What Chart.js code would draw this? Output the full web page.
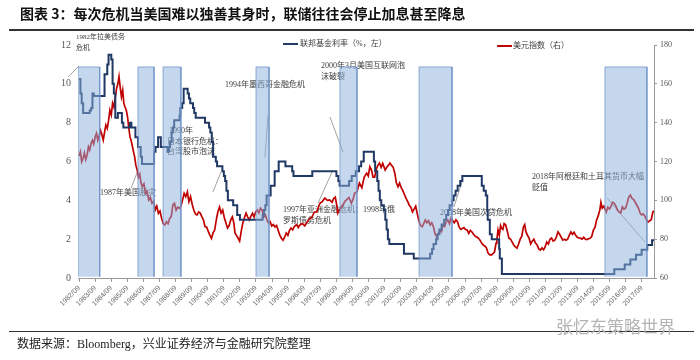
<!DOCTYPE html>
<html><head><meta charset="utf-8">
<script src="https://cdn.jsdelivr.net/npm/chart.js@4.4.0/dist/chart.umd.min.js"></script>
<style>
html,body{margin:0;padding:0;background:#fff;}
#wrap{position:relative;width:700px;height:360px;overflow:hidden;background:#fff;}
#c{position:absolute;left:0;top:0;}
.title{position:absolute;left:20px;top:4px;font:bold 14px "Noto Sans CJK SC";color:#111;white-space:nowrap;line-height:18px;}
.rule{position:absolute;left:9px;width:685px;background:#333;}
.foot{position:absolute;left:17px;top:336px;font:12px "Liberation Serif","Noto Sans CJK SC";color:#222;white-space:nowrap;line-height:16px;}
.wm{position:absolute;left:556px;top:316px;font:17px "Noto Sans CJK SC";color:#b4b4b4;white-space:nowrap;line-height:20px;}
</style></head>
<body>
<div id="wrap">
<canvas id="c" width="700" height="360"></canvas>
<div class="title">图表 3：每次危机当美国难以独善其身时，联储往往会停止加息甚至降息</div>
<div class="rule" style="top:29px;height:1.5px"></div>
<div class="rule" style="top:331px;height:1px"></div>
<div class="wm">张忆东策略世界</div>
<div class="foot">数据来源：Bloomberg，兴业证券经济与金融研究院整理</div>
</div>
<script>
// ---- tick labels ----
const xTickLabels = ['1982/09','1983/09','1984/09','1985/09','1986/09','1987/09','1988/09','1989/09','1990/09','1991/09','1992/09','1993/09','1994/09','1995/09','1996/09','1997/09','1998/09','1999/09','2000/09','2001/09','2002/09','2003/09','2004/09','2005/09','2006/09','2007/09','2008/09','2009/09','2010/09','2011/09','2012/09','2013/09','2014/09','2015/09','2016/09','2017/09'];
const leftTicks = [0,2,4,6,8,10,12];
const rightTicks = [60,80,100,120,140,160,180];

// ---- Fed funds rate (%, left), step changes: date (decimal year) and level ----
const rateDates = [1982.67,1982.75,1982.83,1982.92,1983.33,1983.42,1983.50,1983.58,1984.25,1984.42,1984.50,1984.67,1984.75,1984.83,1984.92,1985.08,1985.33,1985.42,1985.83,1985.92,1986.17,1986.33,1986.50,1986.58,1987.33,1987.42,1987.58,1987.75,1988.17,1988.25,1988.33,1988.42,1988.50,1988.58,1988.92,1988.96,1989.08,1989.17,1989.42,1989.50,1989.58,1989.75,1989.83,1989.92,1990.50,1990.75,1990.83,1990.92,1991.00,1991.17,1991.25,1991.58,1991.67,1991.75,1991.83,1991.92,1992.25,1992.50,1992.67,1994.08,1994.17,1994.25,1994.33,1994.58,1994.83,1995.08,1995.50,1995.92,1996.00,1997.17,1998.67,1998.79,1998.87,1999.46,1999.62,1999.87,2000.08,2000.21,2000.37,2001.00,2001.08,2001.21,2001.29,2001.37,2001.46,2001.62,2001.71,2001.79,2001.87,2001.96,2002.87,2003.48,2004.50,2004.62,2004.71,2004.87,2004.96,2005.08,2005.21,2005.37,2005.50,2005.62,2005.71,2005.87,2005.96,2006.08,2006.21,2006.37,2006.50,2007.71,2007.83,2007.96,2008.05,2008.08,2008.21,2008.33,2008.79,2008.83,2008.96,2015.95,2016.60,2016.95,2017.30,2017.65,2018.00,2018.30,2018.42];
const rateValues = [10.25,9.5,9.0,8.5,8.625,8.75,9.5,9.375,10.5,11.0,11.5,11.25,10.0,9.5,8.25,8.5,8.0,7.75,8.0,7.75,7.25,6.75,6.25,5.875,6.5,6.75,7.25,6.75,6.5,6.75,7.0,7.5,7.75,8.125,8.375,8.75,9.0,9.75,9.5,9.25,9.0,8.75,8.5,8.25,8.0,7.75,7.5,7.0,6.25,6.0,5.75,5.5,5.25,5.0,4.5,4.0,3.75,3.25,3.0,3.25,3.5,3.75,4.25,4.75,5.5,6.0,5.75,5.5,5.25,5.5,5.25,5.0,4.75,5.0,5.25,5.5,5.75,6.0,6.5,6.0,5.5,5.0,4.5,4.0,3.75,3.5,3.0,2.5,2.0,1.75,1.25,1.0,1.25,1.5,1.75,2.0,2.25,2.5,2.75,3.0,3.25,3.5,3.75,4.0,4.25,4.5,4.75,5.0,5.25,4.75,4.5,4.25,3.5,3.0,2.25,2.0,1.5,1.0,0.2,0.45,0.7,0.95,1.2,1.45,1.7,1.95,1.95];

// ---- US dollar index (right) ----
const usdDates = [1982.67,1982.75,1982.83,1982.92,1983.00,1983.08,1983.17,1983.25,1983.33,1983.42,1983.50,1983.58,1983.67,1983.75,1983.83,1983.92,1984.00,1984.08,1984.17,1984.25,1984.33,1984.42,1984.50,1984.58,1984.67,1984.75,1984.83,1984.92,1985.00,1985.08,1985.15,1985.22,1985.30,1985.38,1985.45,1985.52,1985.60,1985.68,1985.75,1985.83,1985.90,1985.98,1986.05,1986.12,1986.20,1986.28,1986.36,1986.44,1986.52,1986.60,1986.70,1986.80,1986.90,1987.00,1987.10,1987.20,1987.30,1987.40,1987.50,1987.60,1987.70,1987.80,1987.90,1988.00,1988.10,1988.20,1988.30,1988.40,1988.50,1988.60,1988.70,1988.80,1988.90,1989.00,1989.10,1989.20,1989.30,1989.40,1989.50,1989.60,1989.70,1989.80,1989.90,1990.00,1990.10,1990.20,1990.30,1990.40,1990.50,1990.60,1990.70,1990.80,1990.90,1991.00,1991.10,1991.20,1991.30,1991.40,1991.50,1991.60,1991.70,1991.80,1991.90,1992.00,1992.10,1992.20,1992.30,1992.36,1992.45,1992.55,1992.65,1992.75,1992.85,1992.95,1993.05,1993.15,1993.25,1993.35,1993.45,1993.55,1993.65,1993.75,1993.85,1993.95,1994.05,1994.15,1994.25,1994.35,1994.45,1994.55,1994.65,1994.75,1994.85,1994.95,1995.05,1995.15,1995.25,1995.35,1995.45,1995.55,1995.65,1995.75,1995.85,1995.95,1996.05,1996.20,1996.30,1996.40,1996.55,1996.70,1996.85,1997.00,1997.15,1997.30,1997.45,1997.55,1997.65,1997.80,1997.95,1998.10,1998.25,1998.40,1998.50,1998.60,1998.70,1998.75,1998.85,1999.00,1999.10,1999.20,1999.30,1999.45,1999.60,1999.70,1999.80,1999.95,2000.10,2000.25,2000.40,2000.55,2000.65,2000.75,2000.85,2000.95,2001.05,2001.15,2001.25,2001.35,2001.45,2001.55,2001.70,2001.80,2001.90,2002.00,2002.10,2002.20,2002.30,2002.40,2002.50,2002.60,2002.70,2002.80,2002.90,2003.00,2003.10,2003.20,2003.30,2003.40,2003.50,2003.60,2003.70,2003.80,2003.90,2004.00,2004.10,2004.20,2004.30,2004.40,2004.50,2004.60,2004.70,2004.80,2004.90,2005.00,2005.10,2005.20,2005.30,2005.40,2005.50,2005.60,2005.70,2005.80,2005.90,2006.00,2006.10,2006.20,2006.30,2006.40,2006.50,2006.60,2006.70,2006.80,2006.90,2007.00,2007.10,2007.20,2007.30,2007.40,2007.50,2007.60,2007.70,2007.80,2007.90,2008.00,2008.10,2008.20,2008.30,2008.40,2008.50,2008.60,2008.65,2008.72,2008.80,2008.88,2008.95,2009.02,2009.10,2009.20,2009.30,2009.40,2009.50,2009.60,2009.70,2009.80,2009.90,2010.00,2010.10,2010.20,2010.30,2010.38,2010.45,2010.55,2010.65,2010.75,2010.85,2010.95,2011.05,2011.15,2011.25,2011.35,2011.45,2011.55,2011.65,2011.75,2011.85,2011.95,2012.05,2012.15,2012.25,2012.35,2012.45,2012.55,2012.65,2012.75,2012.85,2012.95,2013.05,2013.15,2013.25,2013.35,2013.45,2013.55,2013.65,2013.75,2013.85,2013.95,2014.05,2014.15,2014.25,2014.35,2014.45,2014.55,2014.65,2014.75,2014.85,2014.95,2015.05,2015.12,2015.20,2015.30,2015.40,2015.45,2015.55,2015.65,2015.75,2015.85,2015.95,2016.05,2016.15,2016.25,2016.35,2016.45,2016.55,2016.65,2016.75,2016.85,2016.95,2017.05,2017.15,2017.25,2017.35,2017.45,2017.55,2017.65,2017.75,2017.85,2017.95,2018.05,2018.15,2018.25,2018.35,2018.42];
const usdValues = [122.8,125.0,119.9,121.8,124.4,121.0,123.5,127.6,126.0,129.4,131.0,129.0,132.8,134.5,131.0,133.5,136.0,134.0,131.0,135.0,138.8,137.0,141.0,146.5,144.0,150.0,148.0,153.0,157.7,160.0,163.7,158.5,153.4,156.8,150.0,148.2,146.5,143.0,137.9,132.8,131.0,128.0,125.0,122.5,118.0,115.6,112.0,113.5,108.9,107.0,108.5,103.6,104.5,100.2,101.5,98.5,99.5,95.0,97.0,93.3,94.5,90.7,88.0,87.3,89.0,88.0,90.7,91.6,97.6,98.5,95.0,96.5,95.9,97.0,100.0,103.6,101.9,104.4,99.3,101.9,98.0,95.0,93.0,92.4,94.0,93.4,91.6,90.0,86.4,86.3,84.0,82.1,80.4,83.2,84.7,89.9,94.1,96.6,93.4,95.0,91.0,88.3,85.7,87.0,90.0,91.5,88.0,83.2,82.0,80.6,79.0,84.0,88.3,91.0,93.4,91.5,89.9,91.8,93.4,91.4,94.0,95.0,93.5,96.0,95.0,91.4,92.5,90.0,88.3,89.0,86.8,87.5,86.3,87.0,84.5,82.1,80.5,79.5,81.0,83.2,82.0,84.5,85.7,84.8,86.5,87.5,86.0,87.3,88.0,86.8,88.8,90.5,91.4,94.0,94.0,96.5,98.5,99.5,101.2,100.0,100.2,99.0,101.0,101.7,97.0,93.4,95.0,96.6,98.0,99.5,100.2,101.5,98.5,100.5,103.6,104.5,108.9,106.5,112.0,114.0,112.5,117.3,115.6,112.0,112.0,116.0,118.0,119.2,117.0,119.0,115.6,117.0,118.0,119.2,118.0,117.0,114.0,109.0,107.0,108.9,106.5,105.0,103.0,101.0,99.5,97.5,96.5,94.0,95.5,97.0,93.0,89.5,87.0,86.4,88.0,89.9,88.5,89.5,87.3,88.5,86.5,83.0,81.3,82.5,84.7,83.8,87.3,86.5,89.0,89.9,88.0,90.9,89.5,88.5,90.0,89.0,86.3,85.0,85.5,86.0,85.0,84.7,83.0,84.5,83.7,82.5,81.5,81.1,80.5,79.5,78.0,77.0,76.5,75.5,72.9,72.0,71.8,72.5,73.4,78.0,80.0,84.7,82.0,87.0,85.5,85.0,88.0,87.3,84.0,80.5,80.0,78.5,77.0,76.0,75.4,77.5,80.0,81.5,86.3,87.5,84.0,82.0,80.6,77.5,79.0,80.0,78.0,77.0,75.0,74.4,75.5,74.5,76.0,78.5,77.5,80.0,80.6,79.0,79.5,81.1,83.7,82.5,81.0,79.5,80.0,79.5,80.0,82.0,83.7,82.5,83.5,82.0,81.0,80.6,80.5,80.0,81.0,80.0,79.8,80.2,80.5,81.5,84.7,86.0,89.9,92.0,95.0,99.0,96.0,97.0,95.0,94.0,96.5,95.5,97.0,99.0,98.5,97.0,95.0,94.0,93.5,96.6,95.5,96.0,98.5,101.7,102.7,101.0,100.5,99.0,97.6,96.0,93.5,92.5,93.0,92.0,89.9,88.8,89.5,90.0,94.0,94.5];

// ---- crisis periods (shaded) ----
const crisisStart = [1982.60,1986.33,1987.89,1993.67,1998.89,2003.81,2015.37];
const crisisEnd   = [1983.95,1987.33,1989.00,1994.48,1999.95,2005.86,2017.98];
const crisisTop = 10.87, crisisBottom = 0.07;

const xTickValues = xTickLabels.map(s => parseInt(s.slice(0,4)) + 8/12);

const annotations = [
  {lines:['1982年拉美债务','危机'], t:1982.48, v:12.41, lh:11, size:7, l:[1982.66,10.92,1981.98,10.35]},
  {lines:[' 1990年','日本银行危机：','台湾股市泡沫'], t:1988.13, v:7.57, lh:10.5, size:8, l:[1991.49,5.46,1990.99,4.43]},
  {lines:['1987年美国股灾'], t:1983.97, v:4.38, lh:11, size:8, l:[1986.27,5.41,1985.9,4.63]},
  {lines:['1994年墨西哥金融危机'], t:1991.74, v:9.94, lh:11, size:8, l:[1994.42,8.39,1994.23,6.23]},
  {lines:['2000年3月美国互联网泡','沫破裂'], t:1997.71, v:10.92, lh:10.5, size:8, l:[1998.27,8.29,1999.08,6.49]},
  {lines:['1997年亚洲金融危机；1998年俄','罗斯债务危机'], t:1995.35, v:3.50, lh:11, size:8, l:[1998.4,5.46,1997.53,3.86]},
  {lines:['2008年美国次贷危机'], t:2005.11, v:3.35, lh:11, size:8, l:[2006.54,5.10,2005.98,3.66]},
  {lines:['2018年阿根廷和土耳其货币大幅','贬值'], t:2010.83, v:5.20, lh:10.5, size:8, l:[2015.5,4.12,2017.86,1.85]}
];

const BLUE = '#1f3864', RED = '#c00000';
const FONT_A = '"Liberation Serif","Noto Sans CJK SC"';

const textPlugin = {
  id: 'texts',
  beforeDatasetsDraw(chart) {
    const {ctx, scales: {x, y}} = chart;
    ctx.save();
    ctx.textBaseline = 'middle';
    annotations.forEach(a => {
      ctx.font = a.size + 'px ' + FONT_A;
      ctx.strokeStyle = '#8a8a8a'; ctx.lineWidth = 0.8;
      ctx.beginPath();
      ctx.moveTo(x.getPixelForValue(a.l[0]), y.getPixelForValue(a.l[1]));
      ctx.lineTo(x.getPixelForValue(a.l[2]), y.getPixelForValue(a.l[3]));
      ctx.stroke();
      ctx.fillStyle = '#3c3c3c';
      a.lines.forEach((s, i) => ctx.fillText(s, x.getPixelForValue(a.t), y.getPixelForValue(a.v) + i * a.lh));
    });
    ctx.restore();
  },
  afterDatasetsDraw(chart) {
    const {ctx, scales: {x, y}} = chart;
    ctx.save();
    ctx.font = '8px ' + FONT_A;
    ctx.textBaseline = 'middle';
    const items = [
      {c: BLUE, t0: 1995.35, t1: 1996.28, v: 12.05, tt: 1996.41, s: chart.data.datasets[0].label},
      {c: RED, t0: 2008.66, t1: 2009.59, v: 11.95, tt: 2009.65, s: chart.data.datasets[1].label}
    ];
    items.forEach(it => {
      const yy = y.getPixelForValue(it.v);
      ctx.strokeStyle = it.c; ctx.lineWidth = 2;
      ctx.beginPath(); ctx.moveTo(x.getPixelForValue(it.t0), yy); ctx.lineTo(x.getPixelForValue(it.t1), yy); ctx.stroke();
      ctx.fillStyle = '#3c3c3c';
      ctx.fillText(it.s, x.getPixelForValue(it.tt), yy);
    });
    ctx.restore();
  }
};

const bandSets = crisisStart.map((s, i) => ({
  label: 'band' + i,
  data: [{x: s, y: crisisBottom}, {x: s, y: crisisTop}, {x: crisisEnd[i], y: crisisTop}, {x: crisisEnd[i], y: crisisBottom}],
  yAxisID: 'y',
  fill: {target: {value: crisisBottom}},
  backgroundColor: 'rgba(140,175,220,0.5)',
  borderColor: 'rgba(110,145,200,0.75)',
  borderWidth: 1,
  pointRadius: 0,
  order: 0
}));

new Chart(document.getElementById('c'), {
  type: 'line',
  data: {
    datasets: [
      {label: '联邦基金利率（%，左）', data: rateDates.map((t, i) => ({x: t, y: rateValues[i]})), yAxisID: 'y',
       stepped: true, borderColor: BLUE, borderWidth: 2, pointRadius: 0, fill: false, order: 2},
      {label: '美元指数（右）', data: usdDates.map((t, i) => ({x: t, y: usdValues[i]})), yAxisID: 'y1',
       borderColor: RED, borderWidth: 1.7, pointRadius: 0, fill: false, tension: 0, order: 3},
      ...bandSets
    ]
  },
  options: {
    responsive: false,
    animation: false,
    layout: {padding: {top: 45, left: 0, right: 0, bottom: 0}},
    plugins: {legend: {display: false}, tooltip: {enabled: false}},
    scales: {
      x: {
        type: 'linear', min: 1982.6, max: 2018.42,
        afterBuildTicks: s => { s.ticks = xTickValues.map(v => ({value: v})); },
        afterFit: s => { s.height = 82; },
        ticks: {autoSkip: false, minRotation: 45, maxRotation: 45, padding: 2,
                font: {size: 7, family: 'Liberation Sans'}, color: '#666',
                callback: (v, i) => xTickLabels[i]},
        grid: {display: true, drawOnChartArea: false, drawTicks: true, tickLength: 4, color: '#9a9a9a'},
        border: {display: true, color: '#9a9a9a'}
      },
      y: {
        position: 'left', min: 0, max: 12,
        afterBuildTicks: s => { s.ticks = leftTicks.map(v => ({value: v})); },
        afterFit: s => { s.width = 78; },
        ticks: {padding: 7, font: {size: 10, family: 'Liberation Serif'}, color: '#555'},
        grid: {display: false, drawTicks: false},
        border: {display: false}
      },
      y1: {
        position: 'right', min: 60, max: 180,
        afterBuildTicks: s => { s.ticks = rightTicks.map(v => ({value: v})); },
        afterFit: s => { s.width = 46; },
        ticks: {padding: 3, font: {size: 8, family: 'Liberation Serif'}, color: '#555'},
        grid: {display: true, drawOnChartArea: false, drawTicks: true, tickLength: 3, color: '#9a9a9a'},
        border: {display: true, color: '#9a9a9a'}
      }
    }
  },
  plugins: [textPlugin]
});
</script>
</body></html>
